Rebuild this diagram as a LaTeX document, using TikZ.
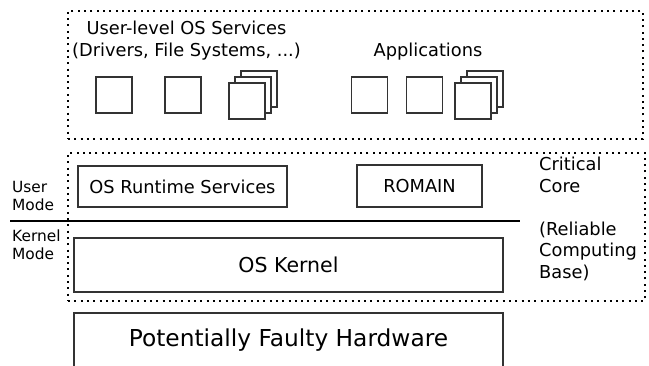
\documentclass[tikz,border=0pt]{standalone}
\usepackage{fontspec}
\setmainfont{DejaVu Sans}

\begin{document}
\begin{tikzpicture}[
x=1pt, y=-1pt,
box/.style={
draw=black!80,
line width=1.2pt,
fill=white,
inner sep=0pt
},
area/.style={
draw,
line width=2pt,
dash pattern=on 2pt off 4.3pt,
inner sep=0pt
},
task/.style={box, minimum width=36pt, minimum height=36pt},
txt/.style={inner sep=0pt, font=\fontsize{17.8}{21.5}\selectfont},
modetxt/.style={inner sep=0pt, align=left, font=\fontsize{15.4}{17.5}\selectfont}
]

\clip (0,0) rectangle (649,366);

% dotted areas
\node[area, minimum width=575pt, minimum height=128pt] (user) at (355.5,75) {};
\node[area, minimum width=577pt, minimum height=148pt] (core) at (356.5,227) {};

% user level
\node[txt, align=center, anchor=north] (svc) at (186.5,21) {User-level OS Services\\(Drivers, File Systems, ...)};
\node[txt, anchor=base] (apps) at (428,57) {Applications};

\node[task] (s1) at (114,95) {};
\node[task] (s2) at (183,95) {};
\node[task] (s3c) at (259,89) {};
\node[task] (s3b) at (253,95) {};
\node[task] (s3a) at (247,101) {};

\node[task] (a1) at (369.5,95) {};
\node[task] (a2) at (424.5,95) {};
\node[task] (a3c) at (485,89) {};
\node[task] (a3b) at (479,95) {};
\node[task] (a3a) at (473,101) {};

% critical core
\node[box, txt, minimum width=209pt, minimum height=41pt] (rt) at (182.5,186.5) {OS Runtime Services};
\node[box, txt, minimum width=125pt, minimum height=42pt] (romain) at (419.5,186) {ROMAIN};
\node[box, minimum width=429pt, minimum height=54pt, font=\fontsize{20.5}{24}\selectfont] (kernel) at (288.5,265) {OS Kernel};
\node[txt, align=left, anchor=north west] (crit) at (539,157.2) {Critical\\Core\\[21.5pt](Reliable\\Computing\\Base)};

% user / kernel split
\coordinate (splitL) at (10,221);
\coordinate (splitR) at (520,221);
\draw[line width=2.4pt] (splitL) -- (splitR);
\node[modetxt, anchor=north west] (umode) at (12,181.5) {User\\Mode};
\node[modetxt, anchor=north west] (kmode) at (12,230) {Kernel\\Mode};

% hardware
\node[box, minimum width=429pt, minimum height=54pt, font=\fontsize{23.3}{27}\selectfont] (hw) at (288.5,340) {Potentially Faulty Hardware};

\end{tikzpicture}
\end{document}
